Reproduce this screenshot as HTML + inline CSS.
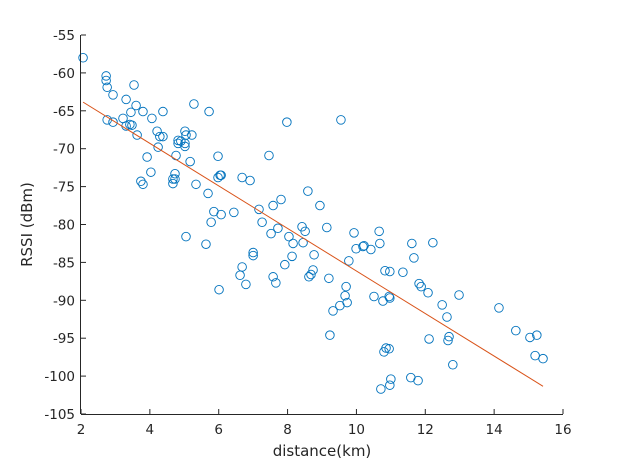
<!DOCTYPE html>
<html><head><meta charset="utf-8"><style>
html,body{margin:0;padding:0;background:#fff;}
svg{display:block;font-family:"DejaVu Sans","Liberation Sans",sans-serif;}
</style></head><body>
<svg id="chart" width="622" height="466"></svg>
<script>
const distances=[2.06,2.73,2.73,2.76,2.76,2.93,2.93,3.22,3.31,3.31,3.48,3.42,3.54,3.60,3.45,3.63,3.80,3.74,3.80,3.92,4.03,4.06,4.21,4.24,4.29,4.38,4.38,4.67,4.67,4.73,4.73,4.76,4.82,4.82,4.90,5.02,5.02,5.02,5.05,5.05,5.17,5.22,5.28,5.34,5.63,5.69,5.72,5.78,5.86,5.98,5.98,6.04,6.01,6.07,6.07,6.44,6.62,6.68,6.68,6.79,6.91,7.0,7.0,7.17,7.26,7.46,7.52,7.58,7.58,7.66,7.72,7.81,7.92,7.98,8.04,8.16,8.13,8.42,8.45,8.51,8.59,8.62,8.68,8.74,8.77,8.94,9.14,9.20,9.23,9.32,9.52,9.55,9.67,9.70,9.73,9.78,9.93,9.99,10.19,10.22,10.42,10.66,10.68,10.51,10.77,10.80,10.83,10.86,10.95,10.95,10.97,10.97,11.0,10.97,10.71,11.35,11.61,11.67,11.82,11.58,11.79,11.88,12.08,12.11,12.22,12.49,12.63,12.66,12.69,12.80,12.98,14.14,14.63,15.04,15.24,15.19,15.42];
const rssi=[-58.0,-60.4,-61.0,-61.9,-66.2,-62.9,-66.5,-66.0,-67.0,-63.5,-66.9,-66.8,-61.6,-64.3,-65.2,-68.2,-65.1,-74.3,-74.7,-71.1,-73.1,-66.0,-67.7,-69.8,-68.4,-65.1,-68.4,-74.6,-74.0,-74.0,-73.3,-70.9,-69.3,-68.9,-69.0,-67.7,-69.7,-69.3,-81.6,-68.2,-71.7,-68.2,-64.1,-74.7,-82.6,-75.9,-65.1,-79.7,-78.3,-71.0,-73.8,-73.5,-88.6,-73.5,-78.7,-78.4,-86.7,-73.8,-85.6,-87.9,-74.2,-84.1,-83.7,-78.0,-79.7,-70.9,-81.2,-86.9,-77.5,-87.7,-80.5,-76.7,-85.3,-66.5,-81.6,-82.5,-84.2,-80.3,-82.4,-80.9,-75.6,-86.9,-86.6,-86.0,-84.0,-77.5,-80.4,-87.1,-94.6,-91.4,-90.7,-66.2,-89.4,-88.2,-90.3,-84.8,-81.1,-83.2,-82.9,-82.8,-83.3,-80.9,-82.5,-89.5,-90.1,-96.8,-86.1,-96.3,-89.5,-96.4,-89.7,-86.2,-100.4,-101.2,-101.7,-86.3,-82.5,-84.4,-87.8,-100.2,-100.6,-88.2,-89.0,-95.1,-82.4,-90.6,-92.2,-95.3,-94.8,-98.5,-89.3,-91.0,-94.0,-94.9,-94.6,-97.3,-97.7];
const xTicks=[2,4,6,8,10,12,14,16];
const yTicks=[-55,-60,-65,-70,-75,-80,-85,-90,-95,-100,-105];

const L=81,R=563,T=35,B=414;
const xMin=2,xMax=16,yMin=-105,yMax=-55;
const sx=v=>L+(v-xMin)/(xMax-xMin)*(R-L);
const sy=v=>B-(v-yMin)/(yMax-yMin)*(B-T);
const NS='http://www.w3.org/2000/svg';
const svg=document.getElementById('chart');
function mk(tag,attrs,parent){const e=document.createElementNS(NS,tag);for(const k in attrs)e.setAttribute(k,attrs[k]);(parent||svg).appendChild(e);return e;}

// points
const pts=mk('g',{});


for(let i=0;i<distances.length;i++){
  const c=mk('circle',{cx:sx(distances[i]),cy:sy(rssi[i]),r:4.3,fill:'none',stroke:'#0072BD','stroke-width':0.9},pts);
  
  
}
// least-squares fit
let n=distances.length,mx=0,my=0;
for(let i=0;i<n;i++){mx+=distances[i];my+=rssi[i];}
mx/=n;my/=n;
let sxy=0,sxx=0;
for(let i=0;i<n;i++){sxy+=(distances[i]-mx)*(rssi[i]-my);sxx+=(distances[i]-mx)**2;}
const slope=sxy/sxx,icpt=my-slope*mx;
const x0=Math.min(...distances),x1=Math.max(...distances);
const fit=mk('line',{x1:sx(x0),y1:sy(icpt+slope*x0),x2:sx(x1),y2:sy(icpt+slope*x1),stroke:'#D95319','stroke-width':1});



// axes
const xa=mk('line',{x1:L,y1:B+0.5,x2:R,y2:B+0.5,stroke:'#262626','stroke-width':1});


const ya=mk('line',{x1:L-0.5,y1:T,x2:L-0.5,y2:B,stroke:'#262626','stroke-width':1});


xTicks.forEach(t=>{
  const x=sx(t);
  mk('line',{x1:x,y1:B,x2:x,y2:B-5,stroke:'#262626','stroke-width':1});
  const tx=mk('text',{x:x,y:B+20,'text-anchor':'middle','font-size':13.5,fill:'#262626'});
  tx.textContent=t;
  
  
});
yTicks.forEach(t=>{
  const y=sy(t);
  mk('line',{x1:L,y1:y,x2:L+5,y2:y,stroke:'#262626','stroke-width':1});
  const tx=mk('text',{x:L-6,y:y+5,'text-anchor':'end','font-size':13.5,fill:'#262626'});
  tx.textContent=t;
  
  
});
const xt=mk('text',{x:(L+R)/2,y:456,'text-anchor':'middle','font-size':15,fill:'#262626'});
xt.textContent='distance(km)';


const yt=mk('text',{x:0,y:0,'text-anchor':'middle','font-size':15,fill:'#262626',transform:`translate(32,${(T+B)/2}) rotate(-90)`});
yt.textContent='RSSI (dBm)';


</script>
</body></html>
